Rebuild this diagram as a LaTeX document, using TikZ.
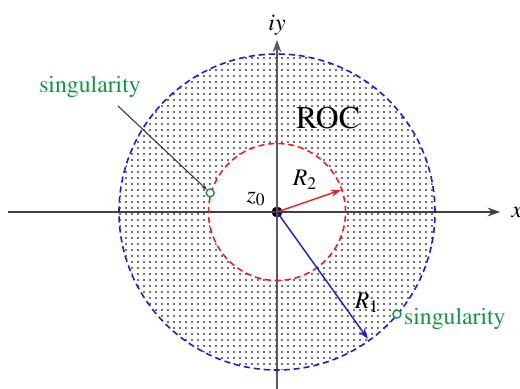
\documentclass[tikz,border=0pt]{standalone}
\usepackage[T1]{fontenc}
\usepackage{mathptmx}
\usetikzlibrary{arrows.meta,calc,positioning,patterns.meta}
\definecolor{singgreen}{RGB}{20,150,70}
\definecolor{rocred}{RGB}{235,30,30}
\definecolor{rocblue}{RGB}{25,25,230}
\tikzset{
  axis/.style={draw=black!75,line width=1.1pt,-{Stealth[length=7pt,width=5pt]}},
  bound/.style={dashed,dash pattern=on 3.5pt off 2.2pt,line width=0.9pt},
  radius arrow/.style={line width=0.8pt,-{Stealth[length=6pt,width=4pt]}},
  pickoff/.style={circle,fill,inner sep=2.2pt},
  sing/.style={circle,draw=singgreen,fill=white,line width=0.8pt,inner sep=1.6pt},
  lbl/.style={font=\fontsize{13.5}{15}\selectfont,inner sep=1pt}
}
\begin{document}
\begin{tikzpicture}[>=Stealth,scale=1.0,transform shape]
  \useasboundingbox (-5.54,-3.52) rectangle (4.86,4.24);

  % annulus (region of convergence)
  \fill[pattern={Dots[distance=0.12cm,radius=0.65pt]},pattern color=black!75,even odd rule]
    (0,0) circle (3.16) (0,0) circle (1.37);

  \node[pickoff] (z0) at (0,0) {};
  \coordinate (xl) at (-5.38,0);
  \coordinate (xr) at (4.46,0);
  \coordinate (yb) at (0,-3.6);
  \coordinate (yt) at (0,3.44);

  \draw[axis] (xl) -- (xr) node[right,lbl,xshift=5pt]{$x$};
  \draw[axis,line width=0.8pt,draw=black!65] (yb) -- (yt) node[above,lbl,yshift=1pt]{$iy$};

  \draw[bound,rocblue] (z0.center) circle (3.16);
  \draw[bound,rocred] (z0.center) circle (1.37);

  \coordinate (r2) at (19:1.36);
  \coordinate (r1) at (-54.4:3.12);
  \draw[radius arrow,rocred] (z0.center) -- (r2);
  \draw[radius arrow,rocblue] (z0.center) -- (r1);

  \node[lbl] at (0.56,0.64) {$R_2$};
  \node[lbl] at (1.80,-1.82) {$R_1$};
  \node[lbl] at (-0.42,0.26) {$z_0$};
  \node[font=\fontsize{18}{20}\selectfont] (roc) at (1.02,1.88) {ROC};

  \node[sing] (sing1) at (164:1.39) {};
  \node[sing] (sing2) at (-40.4:3.15) {};

  \node[lbl,text=singgreen] (lab1) at (-3.74,2.5) {singularity};
  \node[lbl,text=singgreen,anchor=west] (lab2) at (2.5,-2.14) {singularity};
  \coordinate (lead) at (-3.18,2.12);
  \draw[black!80,line width=0.6pt,-{Stealth[length=3pt,width=2.5pt]}] (lead) -- (sing1);
\end{tikzpicture}
\end{document}
